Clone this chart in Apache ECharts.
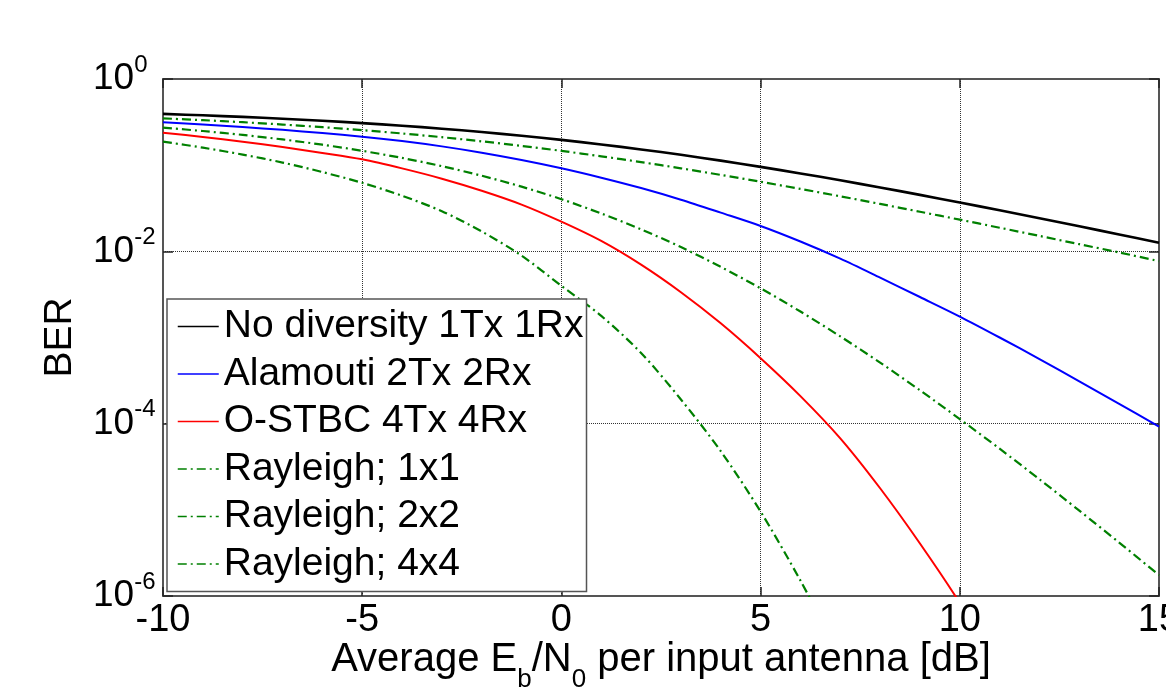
<!DOCTYPE html>
<html>
<head>
<meta charset="utf-8">
<script src="https://cdn.jsdelivr.net/npm/echarts@6/dist/echarts.min.js"></script>
<style>
  html, body { margin: 0; padding: 0; background: #fff; }
  #main { width: 1166px; height: 691px; }
</style>
</head>
<body>
<div id="main"></div>
<script>
// Eb/N0 in dB, one point per dB
var ebn0 = [-10, -9, -8, -7, -6, -5, -4, -3, -2, -1, 0, 1, 2, 3, 4, 5, 6, 7, 8, 9, 10, 11, 12, 13, 14, 15];

// BER
var noDiversity = [0.3933, 0.3789, 0.3632, 0.3461, 0.3277, 0.3079, 0.2870, 0.2651, 0.2425, 0.2195,
  0.1966, 0.1740, 0.1523, 0.1318, 0.1128, 0.0956, 0.0802, 0.0667, 0.0551, 0.0452,
  0.0369, 0.0299, 0.0242, 0.0195, 0.0157, 0.0126];
var alamouti = [0.3141, 0.2965, 0.2773, 0.2570, 0.2360, 0.2143, 0.1905, 0.1652, 0.1396, 0.1148,
  0.0920, 0.0715, 0.0542, 0.0397, 0.0281, 0.0197, 0.0130, 0.00822, 0.00495, 0.00295,
  0.00175, 0.00100, 5.62e-4, 3.09e-4, 1.70e-4, 9.25e-5];
var ostbc = [0.2382, 0.2123, 0.1871, 0.1622, 0.1387, 0.1169, 0.0918, 0.0697, 0.0505, 0.0349,
  0.0221, 0.0132, 0.0070, 0.00335, 0.00146, 5.75e-4, 2.09e-4, 6.76e-5, 1.78e-5, 4.07e-6,
  8.3e-7, 1.4e-7];
var rayleigh1 = [0.3493, 0.3328, 0.3151, 0.2961, 0.2760, 0.2549, 0.2332, 0.2111, 0.1890, 0.1673,
  0.1465, 0.1267, 0.1085, 0.0919, 0.0771, 0.0642, 0.0530, 0.0435, 0.0355, 0.0288,
  0.0233, 0.0188, 0.0151, 0.0121, 0.0097, 0.0077];
var rayleigh2 = [0.2724, 0.2491, 0.2244, 0.1989, 0.1728, 0.1467, 0.1213, 0.0973, 0.0754, 0.0563,
  0.0403, 0.0275, 0.0180, 0.0112, 0.0066, 0.00372, 0.00200, 0.00103, 5.11e-4, 2.44e-4,
  1.13e-4, 5.12e-5, 2.26e-5, 9.78e-6, 4.17e-6, 1.75e-6];
var rayleigh4 = [0.1875, 0.1596, 0.1327, 0.1072, 0.0832, 0.0624, 0.0442, 0.0292, 0.0170, 0.00891,
  0.00398, 0.00178, 6.61e-4, 1.91e-4, 4.79e-5, 9.55e-6, 1.51e-6, 2.0e-7];

var names = ['No diversity 1Tx 1Rx', 'Alamouti 2Tx 2Rx', 'O-STBC 4Tx 4Rx',
  'Rayleigh; 1x1', 'Rayleigh; 2x2', 'Rayleigh; 4x4'];

var FONT = 'Liberation Sans, Arial, sans-serif';
var dashDot = [9, 4, 2, 4];

function pairs(ys) {
  return ys.map(function (y, i) { return [ebn0[i], y]; });
}

function line(name, ys, color, width, type) {
  return {
    name: name,
    type: 'line',
    data: pairs(ys),
    symbol: 'none',
    smooth: 0.3,
    clip: true,
    lineStyle: { color: color, width: width, type: type || 'solid' },
    itemStyle: { color: color }
  };
}

var chart = echarts.init(document.getElementById('main'));

chart.setOption({
  animation: false,
  backgroundColor: '#fff',
  textStyle: { fontFamily: FONT },
  grid: { left: 163, right: 7, top: 79, bottom: 95, outerBoundsMode: 'none' },
  legend: {
    orient: 'vertical',
    left: 167,
    top: 299,
    data: names,
    backgroundColor: '#fff',
    borderColor: '#555',
    borderWidth: 1.5,
    borderRadius: 0,
    padding: [8, 3, 8, 10],
    itemGap: 8.5,
    itemWidth: 41,
    itemHeight: 14,
    itemStyle: { opacity: 0 },
    lineStyle: { width: 1.5 },
    textStyle: { fontFamily: FONT, fontSize: 39, lineHeight: 38, color: '#000' }
  },
  xAxis: [{
    type: 'value',
    min: -10,
    max: 15,
    interval: 5,
    name: 'Average E{sub|b}/N{sub|0} per input antenna [dB]',
    nameLocation: 'middle',
    nameGap: 31,
    nameMoveOverlap: false,
    nameTextStyle: {
      fontFamily: FONT, fontSize: 40, lineHeight: 66, color: '#000',
      rich: {
        sub: { fontFamily: FONT, fontSize: 26, lineHeight: 26, verticalAlign: 'bottom', color: '#000' }
      }
    },
    axisLine: { onZero: false, lineStyle: { color: '#555', width: 2 } },
    axisTick: { inside: true, length: 9, lineStyle: { color: '#222', width: 1.5 } },
    axisLabel: { margin: 6, fontFamily: FONT, fontSize: 38, color: '#000' },
    splitLine: { show: true, lineStyle: { color: '#333', width: 1, type: 'dotted' } }
  }, {
    type: 'value',
    position: 'top',
    min: -10,
    max: 15,
    interval: 5,
    axisLine: { onZero: false, lineStyle: { color: '#555', width: 2 } },
    axisTick: { inside: true, length: 9, lineStyle: { color: '#222', width: 1.5 } },
    axisLabel: { show: false },
    splitLine: { show: false }
  }],
  yAxis: [{
    type: 'log',
    logBase: 100,
    min: 1e-6,
    max: 1,
    name: 'BER',
    nameLocation: 'middle',
    nameGap: 83,
    nameMoveOverlap: false,
    nameTextStyle: { fontFamily: FONT, fontSize: 39, color: '#000' },
    axisLine: { onZero: false, lineStyle: { color: '#555', width: 2 } },
    axisTick: { inside: true, length: 10, lineStyle: { color: '#222', width: 1.5 } },
    axisLabel: {
      showMinLabel: true,
      showMaxLabel: true,
      align: 'left',
      margin: 70,
      formatter: function (v) {
        return '{b|10}{s|' + Math.round(Math.log10(v)) + '}';
      },
      rich: {
        b: { fontFamily: FONT, fontSize: 37, lineHeight: 52, color: '#000' },
        s: { fontFamily: FONT, fontSize: 24, lineHeight: 24, verticalAlign: 'top', color: '#000' }
      }
    },
    splitLine: { show: true, lineStyle: { color: '#333', width: 1, type: 'dotted' } }
  }, {
    type: 'log',
    logBase: 100,
    min: 1e-6,
    max: 1,
    position: 'right',
    axisLine: { onZero: false, lineStyle: { color: '#555', width: 2 } },
    axisTick: { inside: true, length: 10, lineStyle: { color: '#222', width: 1.5 } },
    axisLabel: { show: false },
    splitLine: { show: false }
  }],
  series: [
    line(names[0], noDiversity, '#000000', 2.6),
    line(names[1], alamouti, '#0000ff', 2),
    line(names[2], ostbc, '#ff0000', 2),
    line(names[3], rayleigh1, '#008000', 2.2, dashDot),
    line(names[4], rayleigh2, '#008000', 2.2, dashDot),
    line(names[5], rayleigh4, '#008000', 2.2, dashDot)
  ]
});
</script>
</body>
</html>
